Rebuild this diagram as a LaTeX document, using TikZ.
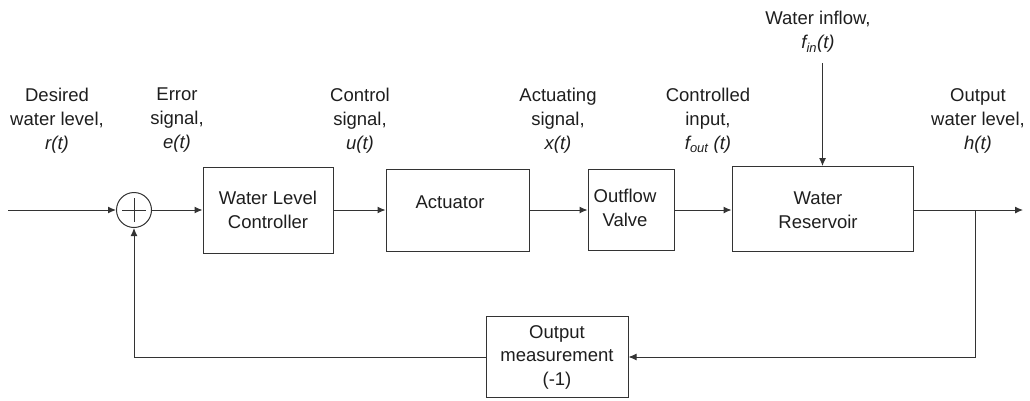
\documentclass[tikz,border=0pt]{standalone}
\usepackage{fontspec}
\setmainfont{Liberation Sans}
\usetikzlibrary{arrows.meta}
\definecolor{ink}{HTML}{1E1E1E}
\definecolor{wire}{HTML}{333333}
\tikzset{
  blk/.style={draw=wire, line width=1pt, inner sep=0pt, align=center,
    font=\fontsize{18.5}{23.5}\selectfont, text=ink},
  lbl/.style={inner sep=0pt, align=center, anchor=north,
    font=\fontsize{18.5}{24}\selectfont, text=ink},
  sig/.style={draw=wire, line width=1pt, -{Latex[length=8pt,width=7pt]}},
  plain/.style={draw=wire, line width=1pt}
}
\begin{document}
\begin{tikzpicture}[x=1pt,y=-1pt]
\useasboundingbox (0,0) rectangle (1030,400);

% summing junction
\node[draw=wire, line width=1pt, circle, minimum size=35pt, inner sep=0pt] (sum) at (134,210) {};
\draw[plain] ([xshift=-12pt]sum.center) -- ([xshift=12pt]sum.center);
\draw[plain] ([yshift=-12pt]sum.center) -- ([yshift=12pt]sum.center);

% forward path blocks
\node[blk, minimum width=130pt, minimum height=86pt] (ctrl) at (268,210) {Water Level\\Controller};
\node[blk, minimum width=143pt, minimum height=82pt] (act) at (457.5,210) {};
\node[blk, draw=none] (acttxt) at (450,202.5) {Actuator};
\node[blk, minimum width=86pt, minimum height=81pt] (valve) at (631,210) {};
\node[blk, draw=none] (valvetxt) at (625,208) {Outflow\\Valve};
\node[blk, minimum width=181pt, minimum height=85pt] (res) at (822.5,209) {};
\node[blk, draw=none] (restxt) at (818,210) {Water\\Reservoir};

% feedback block
\node[blk, minimum width=142pt, minimum height=81pt] (meas) at (557,357) {Output\\measurement\\(-1)};

% free ends
\coordinate (in) at (8,210);
\coordinate (out) at (1023,210);
\coordinate (br) at (975,210);
\coordinate (inflow) at (822.5,63);

% connectors
\draw[sig] (in) -- (sum.west);
\draw[sig] (sum.east) -- (ctrl.west);
\draw[sig] (ctrl.east) -- (act.west);
\draw[sig] (act.east) -- (valve.west);
\draw[sig] (valve.east) -- (res.west |- valve.east);
\draw[sig] (inflow) -- (res.north);
\draw[sig] (res.east |- out) -- (out);
\draw[sig] (br) |- (meas.east);
\draw[sig] (meas.west) -| (sum.south);

% signal labels
\node[lbl] (lr) at (57,88) {Desired\\water level,\\\textit{r(t)}};
\node[lbl] (le) at (177,88) {Error\\signal,\\\textit{e(t)}};
\node[lbl] (lu) at (360,88) {Control\\signal,\\\textit{u(t)}};
\node[lbl] (lx) at (558,88) {Actuating\\signal,\\\textit{x(t)}};
\node[lbl] (lf) at (708,88) {Controlled\\input,\\\textit{f\textsubscript{out} (t)}};
\node[lbl] (lh) at (978,88) {Output\\water level,\\\textit{h(t)}};
\node[lbl] (lin) at (818,11) {Water inflow,\\\textit{f\textsubscript{in}(t)}};
\end{tikzpicture}
\end{document}
